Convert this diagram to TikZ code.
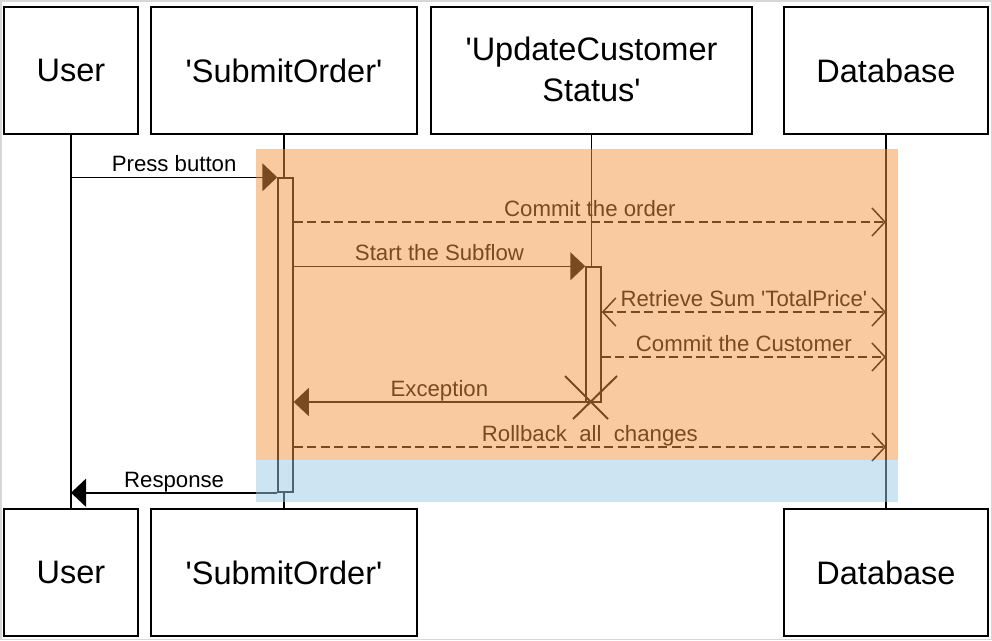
\documentclass[tikz,border=0pt]{standalone}
\usepackage{fontspec}
\newfontfamily\lib{Liberation Sans}
\usetikzlibrary{arrows.meta}
\definecolor{ovorange}{RGB}{243,147,65}
\definecolor{ovblue}{RGB}{155,201,229}
\definecolor{framegray}{RGB}{215,215,215}
\begin{document}
\begin{tikzpicture}[x=1pt,y=-1pt,
  actor/.style={draw=black, line width=1.5pt, fill=white, inner sep=0pt,
    font=\lib\fontsize{32.5}{41}\selectfont, align=center},
  life/.style={line width=1.5pt, draw=black},
  actbar/.style={draw=black, line width=1.5pt, fill=white, inner sep=0pt, minimum width=15pt},
  msg/.style={line width=1.5pt, -{Triangle[length=15pt,width=28pt]}},
  reply/.style={line width=1.5pt, dash pattern=on 9pt off 4.5pt, -{Straight Barb[length=13pt,width=28pt]}},
  lbl/.style={font=\lib\fontsize{22.2}{26}\selectfont, anchor=base, inner sep=0pt, yshift=5.5pt},
]
\useasboundingbox (0,0) rectangle (992,640);
\draw[framegray, line width=1.5pt] (0.75,0.75) rectangle (991.25,639.25);

% actor boxes
\node[actor, minimum width=134pt, minimum height=127pt] (u1) at (71,70.5) {User};
\node[actor, minimum width=266pt, minimum height=127pt] (s1) at (284,70.5) {'SubmitOrder'};
\node[actor, minimum width=321pt, minimum height=127pt] (c1) at (591.5,70.5) {'UpdateCustomer\\Status'\rule[-3pt]{0pt}{0pt}};
\node[actor, minimum width=204pt, minimum height=127pt] (d1) at (886,70.5) {Database};
\node[actor, minimum width=134pt, minimum height=127pt] (u2) at (71,572.5) {User};
\node[actor, minimum width=266pt, minimum height=127pt] (s2) at (284,572.5) {'SubmitOrder'};
\node[actor, minimum width=204pt, minimum height=127pt] (d2) at (886,572.5) {Database};

% lifelines
\draw[life] (u1.south) -- (u2.north);
\draw[life] (s1.south) -- (s2.north);
\draw[life] (d1.south) -- (d2.north);
\coordinate (ctop) at (591,267);
\draw[life] (c1.south) -- (c1.south |- ctop);

% activation bars
\node[actbar, minimum height=314pt] (a1) at (285.5,335) {};
\node[actbar, minimum height=135pt] (a2) at (593.5,334.5) {};

% messages
\draw[msg] (u1.south |- a1.north west) -- (a1.north west)
  node[lbl, midway] {Press button};
\coordinate (m2) at (0,222);
\draw[reply] (a1.east |- m2) -- (d1.south |- m2)
  node[lbl, midway] {Commit the order};
\draw[msg] (a1.east |- a2.north west) -- (a2.north west)
  node[lbl, midway] {Start the Subflow};
\coordinate (m4) at (0,312);
\draw[reply, {Straight Barb[length=13pt,width=28pt]}-{Straight Barb[length=13pt,width=28pt]}]
  (a2.east |- m4) -- (d1.south |- m4)
  node[lbl, midway] {Retrieve Sum 'TotalPrice'};
\coordinate (m5) at (0,357);
\draw[reply] (a2.east |- m5) -- (d1.south |- m5)
  node[lbl, midway] {Commit the Customer};
\coordinate (xc) at (591,402);
\draw[msg] (xc) -- (a1.east |- xc)
  node[lbl, midway, xshift=-3pt] {Exception};
\draw[line width=2pt] (xc) ++(-26,-26) -- ++(43,43);
\draw[line width=2pt] (xc) ++(26,-26) -- ++(-44,43);
\coordinate (m7) at (0,447);
\draw[reply] (a1.east |- m7) -- (d1.south |- m7)
  node[lbl, midway] {Rollback~~all~~changes};
\draw[msg] (a1.south west) -- (u1.south |- a1.south west)
  node[lbl, midway] {Response};

% translucent frames
\fill[ovorange, fill opacity=0.5] (256,149) rectangle (898,460);
\fill[ovblue, fill opacity=0.5] (256,460) rectangle (898,502);
\end{tikzpicture}
\end{document}
